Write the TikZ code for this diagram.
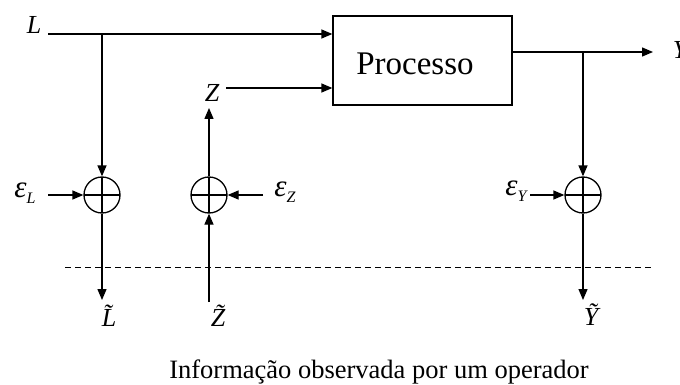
\documentclass[tikz,border=0pt]{standalone}
\usepackage{fontspec}
\setmainfont{Liberation Serif}
\usetikzlibrary{arrows.meta}

\newcommand{\sbx}[1]{\raisebox{-0.45ex}{\fontsize{16}{16}\selectfont #1}}

\begin{document}
\begin{tikzpicture}[x=1pt,y=-1pt,line width=1.3pt,
  arr/.style={-{Triangle[length=11pt,width=9pt]}},
  somador/.style={draw,circle,inner sep=0pt,minimum size=36pt,
    path picture={\draw (path picture bounding box.north) -- (path picture bounding box.south)
      (path picture bounding box.west) -- (path picture bounding box.east);}},
  rot/.style={font=\fontsize{26}{26}\selectfont\itshape,inner sep=0pt},
  ruido/.style={font=\fontsize{31}{31}\selectfont\itshape,inner sep=0pt}]
\useasboundingbox (0,0) rectangle (680,385);

\node[draw,minimum width=179pt,minimum height=89pt] (proc) at (422.5,60.5) {};
\node[font=\fontsize{33}{33}\selectfont,inner sep=0pt] (proctxt) at (415,64) {Processo};

% Inputs
\node[rot] (L) at (34,25) {L}; % L label
\coordinate (Lin) at (48,34);
\coordinate (Lb) at (102,34);
\draw[arr] (Lin) -- (Lin -| proc.west);
\node[rot] (Z) at (212,93) {Z}; % Z label
\coordinate (Zout) at (226,88);
\coordinate (Ztip) at (209,108);
\draw[arr] (Zout) -- (Zout -| proc.west);

% Output
\coordinate (Yend) at (653,52);
\coordinate (Yb) at (583,52);
\draw[arr] (Yend -| proc.east) -- (Yend);
\node[rot] (Y) at (680,50) {Y}; % Y label

% Sums
\node[somador] (sL) at (102,195) {};
\node[somador] (sZ) at (209,195) {};
\node[somador] (sY) at (583,195) {};
\draw[arr] (Lb) -- (sL);
\draw[arr] (Yb) -- (sY);
\draw[arr] (sZ) -- (Ztip);

% Noise
\node[ruido] (eL) at (25,193) {ε\sbx{L}}; % eps_L label
\node[ruido] (eZ) at (285,192) {ε\sbx{Z}}; % eps_Z label
\node[ruido] (eY) at (516,191) {ε\sbx{Y}}; % eps_Y label
\coordinate (eLa) at (48,195);
\coordinate (eZa) at (263,195);
\coordinate (eYa) at (530,195);
\draw[arr] (eLa) -- (sL);
\draw[arr] (eZa) -- (sZ);
\draw[arr] (eYa) -- (sY);

% Observed
\coordinate (Lt) at (102,300);
\coordinate (Zt) at (209,302);
\coordinate (Yt) at (583,300);
\draw[arr] (sL) -- (Lt);
\draw[arr] (Zt) -- (sZ);
\draw[arr] (sY) -- (Yt);
\node[rot] (Lo) at (109,316) {\~L}; % L tilde
\node[rot] (Zo) at (218,316) {\~Z}; % Z tilde
\node[rot] (Yo) at (591,315) {\~Y}; % Y tilde

\coordinate (d1) at (65,267);
\coordinate (d2) at (653,267);
\draw[line width=1pt,dash pattern=on 6pt off 4pt] (d1) -- (d2);
\node[font=\fontsize{26.5}{26.5}\selectfont] (cap) at (379,372) {Informação observada por um operador};

\end{tikzpicture}
\end{document}
